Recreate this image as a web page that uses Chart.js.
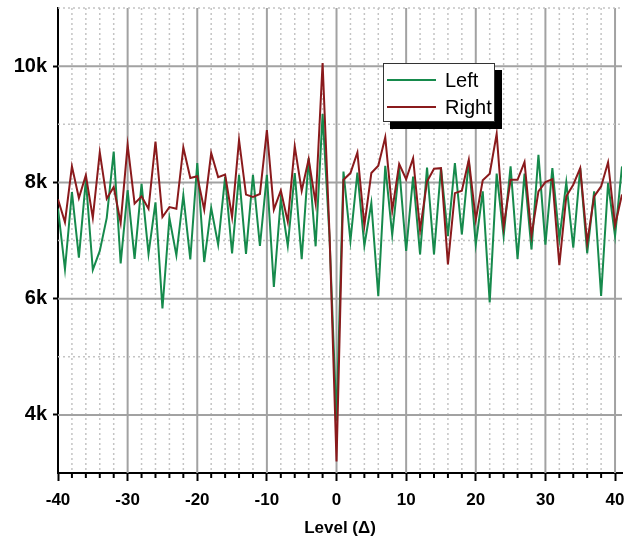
<!DOCTYPE html>
<html>
<head>
<meta charset="utf-8">
<script src="https://cdn.jsdelivr.net/npm/chart.js@4"></script>
<style>
  html, body { margin: 0; padding: 0; background: #fff; }
  #wrap { position: relative; width: 627px; height: 540px; }
  #legendBox {
    position: absolute; left: 383px; top: 63px; width: 110px; height: 57px;
    background: #fff; border: 1px solid #333; box-shadow: 7px 7px 0 #000;
    font-family: "Liberation Sans", Arial, sans-serif; font-size: 20px; color: #000;
  }
  .row { position: absolute; left: 3px; height: 24px; display: flex; align-items: center; }
  .swatch { width: 49px; height: 2px; margin-right: 9px; }
</style>
</head>
<body>
<div id="wrap">
  <canvas id="levelChart" width="627" height="540"></canvas>
  <div id="legendBox">
    <div class="row" style="top:4px"><span class="swatch" style="background:#168a4c"></span>Left</div>
    <div class="row" style="top:31px"><span class="swatch" style="background:#8a1a1c"></span>Right</div>
  </div>
</div>
<script>
// ---------- Data ----------
const levels = [];
for (let i = -40; i <= 41; i++) levels.push(i);

const leftValues = [
  7550, 6505, 7835, 6705, 8045, 6495, 6820, 7390, 8530, 6605,
  7865, 6685, 7975, 6770, 7655, 5830, 7390, 6745, 7775, 6675,
  8330, 6630, 7560, 6930, 8090, 6780, 8130, 6770, 8130, 6905,
  8130, 6200, 7715, 6910, 8160, 6680, 8415, 6900, 9175, 7050,
  3900, 8185, 6995, 8170, 6910, 7645, 6040, 8285, 7095, 8250,
  6820, 8100, 6760, 8255, 6760, 8250, 7075, 8330, 7105, 8370,
  6930, 7845, 5935, 8150, 7075, 8275, 6685, 8150, 6845, 8475,
  6930, 8245, 7020, 8000, 6875, 8245, 6780, 7845, 6045, 7990,
  7075, 8275
];

const rightValues = [
  7710, 7315, 8275, 7730, 8125, 7390, 8515, 7720, 7920, 7305,
  8645, 7635, 7760, 7545, 8700, 7405, 7575, 7545, 8600, 8075,
  8105, 7530, 8505, 8090, 8135, 7405, 8730, 7790, 7750, 7800,
  8900, 7530, 7860, 7325, 8620, 7855, 8400, 7640, 10055, 7100,
  3200, 8045, 8160, 8515, 7255, 8160, 8285, 8775, 7515, 8315,
  8055, 8415, 7180, 8015, 8235, 8245, 6590, 7815, 7855, 8390,
  7360, 8035, 8150, 8835, 7235, 8045, 8045, 8350, 7085, 7845,
  8005, 8055, 6575, 7760, 7960, 8245, 6960, 7760, 7930, 8345,
  7260, 7790
];

const xTickValues = [-40, -30, -20, -10, 0, 10, 20, 30, 40];
const yTickValues = [4000, 6000, 8000, 10000];

const xMin = -40, xMax = 41;
const yMin = 3000, yMax = 11000;
const xMinorStep = 2, yMinorStep = 1000;

const toPoints = vals => levels.map((x, i) => ({ x: x, y: vals[i] }));

// ---------- Grid: solid majors, dotted minors, minor ticks on x ----------
const gridPlugin = {
  id: 'mixedGrid',
  beforeDatasetsDraw(chart) {
    const { ctx, chartArea: a, scales: { x, y } } = chart;
    ctx.save();
    for (let v = xMin + xMinorStep; v <= xMax; v += xMinorStep) {
      const px = x.getPixelForValue(v);
      const major = xTickValues.includes(v);
      ctx.beginPath();
      ctx.setLineDash(major ? [] : [2, 3]);
      ctx.lineWidth = major ? 2 : 1.5;
      ctx.strokeStyle = major ? '#a2a2a2' : '#c4c4c4';
      ctx.moveTo(px, a.top);
      ctx.lineTo(px, a.bottom);
      ctx.stroke();
    }
    for (let v = yMin + yMinorStep; v <= yMax; v += yMinorStep) {
      const py = y.getPixelForValue(v);
      const major = yTickValues.includes(v);
      ctx.beginPath();
      ctx.setLineDash(major ? [] : [2, 3]);
      ctx.lineWidth = major ? 2 : 1.5;
      ctx.strokeStyle = major ? '#a2a2a2' : '#c4c4c4';
      ctx.moveTo(a.left, py);
      ctx.lineTo(a.right, py);
      ctx.stroke();
    }
    ctx.setLineDash([]);
    ctx.strokeStyle = '#000';
    ctx.lineWidth = 2;
    for (let v = xMin; v <= xMax; v += xMinorStep) {
      if (xTickValues.includes(v)) continue;
      const px = x.getPixelForValue(v);
      ctx.beginPath();
      ctx.moveTo(px, a.bottom);
      ctx.lineTo(px, a.bottom + 5);
      ctx.stroke();
    }
    ctx.restore();
  }
};

const tickFont = { family: '"Liberation Sans", Arial, sans-serif', size: 17, weight: 'bold' };

new Chart(document.getElementById('levelChart').getContext('2d'), {
  type: 'line',
  data: {
    datasets: [
      { label: 'Left', data: toPoints(leftValues), borderColor: '#168a4c', borderWidth: 2, order: 1 },
      { label: 'Right', data: toPoints(rightValues), borderColor: '#8a1a1c', borderWidth: 2, order: 0 }
    ]
  },
  options: {
    responsive: false,
    animation: false,
    layout: { padding: { top: 8, right: 5, left: 0, bottom: 0 } },
    elements: { point: { radius: 0 }, line: { tension: 0 } },
    plugins: { legend: { display: false }, tooltip: { enabled: false } },
    scales: {
      x: {
        type: 'linear', min: xMin, max: xMax,
        afterBuildTicks: s => { s.ticks = xTickValues.map(v => ({ value: v })); },
        afterFit: s => { s.height = 67; s.paddingLeft = 0; s.paddingRight = 0; },
        border: { display: true, color: '#000', width: 2 },
        grid: { drawOnChartArea: false, drawTicks: true, tickLength: 8, tickColor: '#000', tickWidth: 2 },
        ticks: { color: '#000', font: tickFont, padding: 9, maxRotation: 0 },
        title: { display: true, text: 'Level (Δ)', color: '#000', font: tickFont, padding: { top: 0, bottom: 1 } }
      },
      y: {
        type: 'linear', min: yMin, max: yMax,
        afterBuildTicks: s => { s.ticks = yTickValues.map(v => ({ value: v })); },
        afterFit: s => { s.width = 58; s.paddingTop = 0; s.paddingBottom = 0; },
        border: { display: true, color: '#000', width: 2 },
        grid: { drawOnChartArea: false, drawTicks: true, tickLength: 5, tickColor: '#000', tickWidth: 2 },
        ticks: {
          color: '#000', font: { ...tickFont, size: 20 }, padding: 6,
          callback: v => (v / 1000) + 'k'
        }
      }
    }
  },
  plugins: [gridPlugin]
});
</script>
</body>
</html>
